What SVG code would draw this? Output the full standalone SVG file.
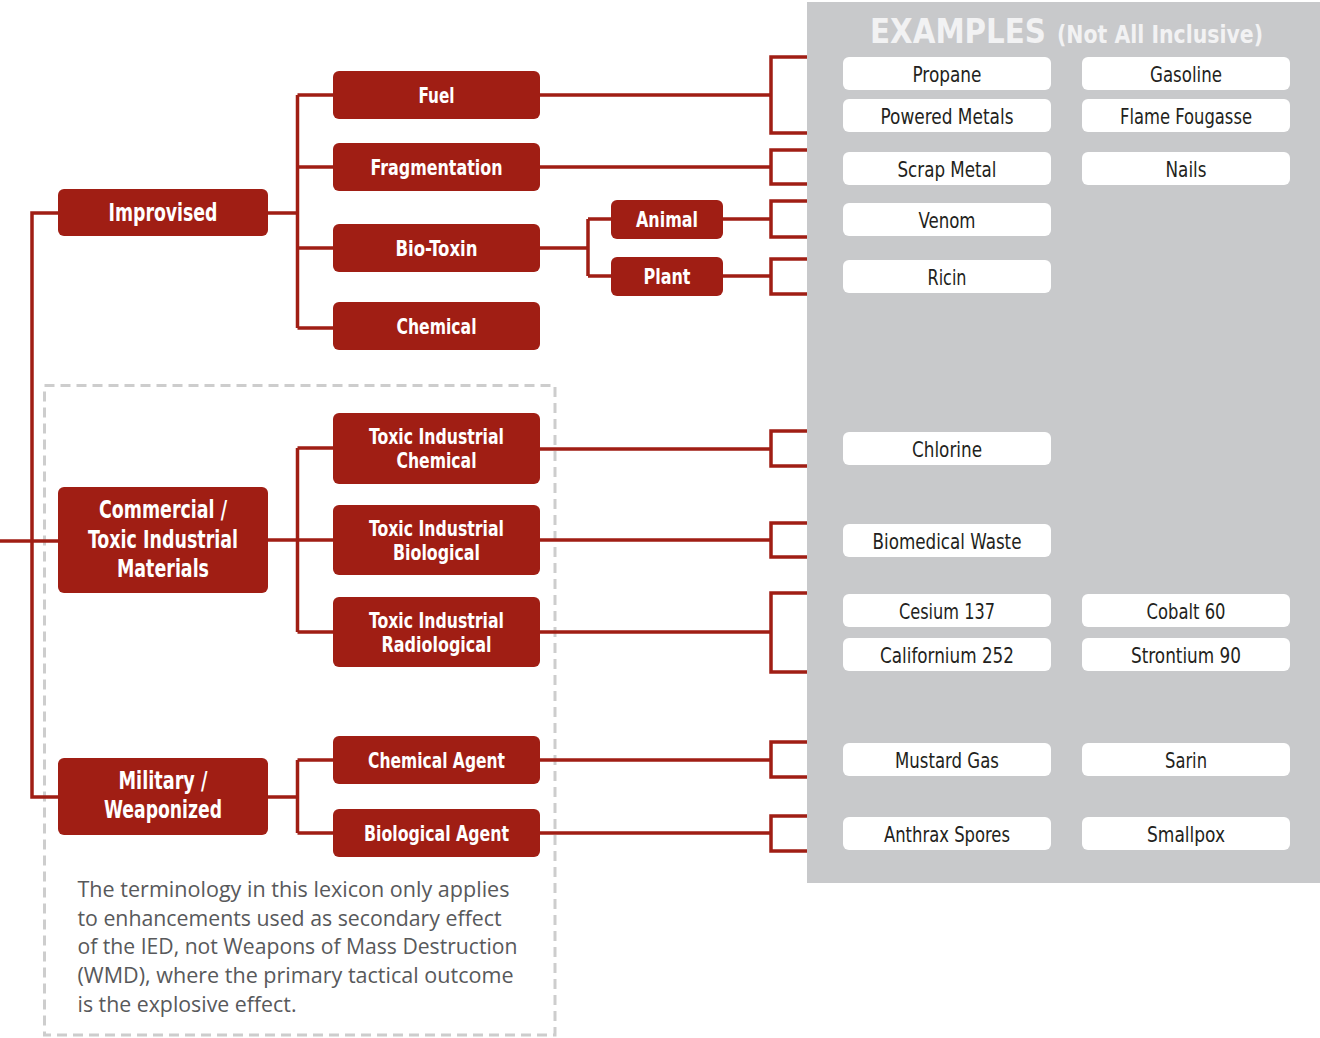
<svg xmlns="http://www.w3.org/2000/svg" width="1320" height="1038" viewBox="0 0 1320 1038">
  <style>
    .node rect { fill: #a01e14; }
    .lbl { font-family: "Liberation Sans Narrow", "DejaVu Sans Condensed", "Roboto", sans-serif; font-weight: 700; fill: #ffffff; text-anchor: middle; }
    .s22 { font-size: 22px; }
    .s24 { font-size: 24px; }
    .ex rect { fill: #ffffff; }
    .ex text { font-family: "Liberation Sans Narrow", "DejaVu Sans Condensed", "Roboto", sans-serif; font-size: 22px; fill: #231f20; text-anchor: middle; }
    .wire { fill: none; stroke: #a01e14; stroke-width: 3.5; }
    .note { font-family: "Open Sans", "Noto Sans", sans-serif; font-size: 22px; fill: #58595b; }
    .title { font-family: "Liberation Sans Narrow", "DejaVu Sans Condensed", sans-serif; font-weight: 700; fill: #f2f2f3; }
  </style>

  <!-- examples panel -->
  <rect x="807" y="2" width="513" height="881" fill="#c8c9cb"/>
  <text class="title" x="870" y="43" font-size="34" textLength="176" lengthAdjust="spacingAndGlyphs">EXAMPLES</text>
  <text class="title" x="1057" y="43" font-size="25" textLength="206" lengthAdjust="spacingAndGlyphs">(Not All Inclusive)</text>

  <!-- dashed scope frame -->
  <rect x="44.5" y="385.5" width="510.5" height="649.5" fill="none" stroke="#cdcdcd" stroke-width="3" stroke-dasharray="10 6"/>

  <!-- connectors -->
  <g id="connectors" class="wire">
    <path d="M58 213 H32 V797 H58"/>
    <path d="M0 541 H58"/>
    <path d="M268 213 H297.5 M297.5 95 V328 M297.5 95 H333 M297.5 167 H333 M297.5 248 H333 M297.5 328 H333"/>
    <path d="M540 95 H771 M807 57 H771 V133 H807"/>
    <path d="M540 167 H771 M807 150 H771 V184 H807"/>
    <path d="M540 248 H588 M588 219 V276 M588 219 H611 M588 276 H611"/>
    <path d="M723 219 H771 M807 201 H771 V237 H807"/>
    <path d="M723 276 H771 M807 259 H771 V294 H807"/>
    <path d="M268 540 H297.5 M297.5 448 V632 M297.5 448 H333 M297.5 540 H333 M297.5 632 H333"/>
    <path d="M540 449 H771 M807 431 H771 V466 H807"/>
    <path d="M540 540 H771 M807 523 H771 V557 H807"/>
    <path d="M540 632 H771 M807 593 H771 V672 H807"/>
    <path d="M268 797 H297.5 M297.5 760 V833 M297.5 760 H333 M297.5 833 H333"/>
    <path d="M540 760 H771 M807 742 H771 V777 H807"/>
    <path d="M540 833 H771 M807 816 H771 V851 H807"/>
  </g>

  <!-- main categories -->
  <g id="improvised" class="node">
    <rect x="58" y="189" width="210" height="47" rx="6"/>
    <text class="lbl" x="163" y="221" font-size="25" textLength="109" lengthAdjust="spacingAndGlyphs">Improvised</text>
  </g>
  <g id="commercial" class="node">
    <rect x="58" y="487" width="210" height="106" rx="6"/>
    <text class="lbl s24" x="163" y="518" textLength="128" lengthAdjust="spacingAndGlyphs">Commercial /</text>
    <text class="lbl s24" x="163" y="548" textLength="150" lengthAdjust="spacingAndGlyphs">Toxic Industrial</text>
    <text class="lbl s24" x="163" y="577" textLength="92" lengthAdjust="spacingAndGlyphs">Materials</text>
  </g>
  <g id="military" class="node">
    <rect x="58" y="758" width="210" height="77" rx="6"/>
    <text class="lbl s24" x="163" y="789" textLength="89" lengthAdjust="spacingAndGlyphs">Military /</text>
    <text class="lbl s24" x="163" y="818" textLength="118" lengthAdjust="spacingAndGlyphs">Weaponized</text>
  </g>

  <!-- sub-categories -->
  <g id="fuel" class="node">
    <rect x="333" y="71" width="207" height="48" rx="6"/>
    <text class="lbl s22" x="436.5" y="103" textLength="36" lengthAdjust="spacingAndGlyphs">Fuel</text>
  </g>
  <g id="fragmentation" class="node">
    <rect x="333" y="143" width="207" height="48" rx="6"/>
    <text class="lbl s22" x="436.5" y="175" textLength="132" lengthAdjust="spacingAndGlyphs">Fragmentation</text>
  </g>
  <g id="bio-toxin" class="node">
    <rect x="333" y="224" width="207" height="48" rx="6"/>
    <text class="lbl s22" x="436.5" y="256" textLength="82" lengthAdjust="spacingAndGlyphs">Bio-Toxin</text>
  </g>
  <g id="chemical" class="node">
    <rect x="333" y="302" width="207" height="48" rx="6"/>
    <text class="lbl s22" x="436.5" y="334" textLength="80" lengthAdjust="spacingAndGlyphs">Chemical</text>
  </g>
  <g id="animal" class="node">
    <rect x="611" y="200" width="112" height="39" rx="6"/>
    <text class="lbl s22" x="667" y="227" textLength="62" lengthAdjust="spacingAndGlyphs">Animal</text>
  </g>
  <g id="plant" class="node">
    <rect x="611" y="257" width="112" height="39" rx="6"/>
    <text class="lbl s22" x="667" y="284" textLength="47" lengthAdjust="spacingAndGlyphs">Plant</text>
  </g>
  <g id="tic" class="node">
    <rect x="333" y="413" width="207" height="71" rx="6"/>
    <text class="lbl s22" x="436.5" y="444" textLength="135" lengthAdjust="spacingAndGlyphs">Toxic Industrial</text>
    <text class="lbl s22" x="436.5" y="468" textLength="80" lengthAdjust="spacingAndGlyphs">Chemical</text>
  </g>
  <g id="tib" class="node">
    <rect x="333" y="505" width="207" height="70" rx="6"/>
    <text class="lbl s22" x="436.5" y="536" textLength="135" lengthAdjust="spacingAndGlyphs">Toxic Industrial</text>
    <text class="lbl s22" x="436.5" y="560" textLength="87" lengthAdjust="spacingAndGlyphs">Biological</text>
  </g>
  <g id="tir" class="node">
    <rect x="333" y="597" width="207" height="70" rx="6"/>
    <text class="lbl s22" x="436.5" y="628" textLength="135" lengthAdjust="spacingAndGlyphs">Toxic Industrial</text>
    <text class="lbl s22" x="436.5" y="652" textLength="110" lengthAdjust="spacingAndGlyphs">Radiological</text>
  </g>
  <g id="chemical-agent" class="node">
    <rect x="333" y="736" width="207" height="48" rx="6"/>
    <text class="lbl s22" x="436.5" y="768" textLength="137" lengthAdjust="spacingAndGlyphs">Chemical Agent</text>
  </g>
  <g id="biological-agent" class="node">
    <rect x="333" y="809" width="207" height="48" rx="6"/>
    <text class="lbl s22" x="436.5" y="841" textLength="145" lengthAdjust="spacingAndGlyphs">Biological Agent</text>
  </g>

  <!-- example chips -->
  <g id="ex-propane" class="ex"><rect x="843" y="57" width="208" height="33" rx="6"/><text x="947" y="82" textLength="69" lengthAdjust="spacingAndGlyphs">Propane</text></g>
  <g id="ex-gasoline" class="ex"><rect x="1082" y="57" width="208" height="33" rx="6"/><text x="1186" y="82" textLength="72" lengthAdjust="spacingAndGlyphs">Gasoline</text></g>
  <g id="ex-powered-metals" class="ex"><rect x="843" y="99" width="208" height="33" rx="6"/><text x="947" y="124" textLength="133" lengthAdjust="spacingAndGlyphs">Powered Metals</text></g>
  <g id="ex-flame-fougasse" class="ex"><rect x="1082" y="99" width="208" height="33" rx="6"/><text x="1186" y="124" textLength="132" lengthAdjust="spacingAndGlyphs">Flame Fougasse</text></g>
  <g id="ex-scrap-metal" class="ex"><rect x="843" y="152" width="208" height="33" rx="6"/><text x="947" y="177" textLength="99" lengthAdjust="spacingAndGlyphs">Scrap Metal</text></g>
  <g id="ex-nails" class="ex"><rect x="1082" y="152" width="208" height="33" rx="6"/><text x="1186" y="177" textLength="41" lengthAdjust="spacingAndGlyphs">Nails</text></g>
  <g id="ex-venom" class="ex"><rect x="843" y="203" width="208" height="33" rx="6"/><text x="947" y="228" textLength="57" lengthAdjust="spacingAndGlyphs">Venom</text></g>
  <g id="ex-ricin" class="ex"><rect x="843" y="260" width="208" height="33" rx="6"/><text x="947" y="285" textLength="39" lengthAdjust="spacingAndGlyphs">Ricin</text></g>
  <g id="ex-chlorine" class="ex"><rect x="843" y="432" width="208" height="33" rx="6"/><text x="947" y="457" textLength="70" lengthAdjust="spacingAndGlyphs">Chlorine</text></g>
  <g id="ex-biomedical-waste" class="ex"><rect x="843" y="524" width="208" height="33" rx="6"/><text x="947" y="549" textLength="149" lengthAdjust="spacingAndGlyphs">Biomedical Waste</text></g>
  <g id="ex-cesium" class="ex"><rect x="843" y="594" width="208" height="33" rx="6"/><text x="947" y="619" textLength="96" lengthAdjust="spacingAndGlyphs">Cesium 137</text></g>
  <g id="ex-cobalt" class="ex"><rect x="1082" y="594" width="208" height="33" rx="6"/><text x="1186" y="619" textLength="79" lengthAdjust="spacingAndGlyphs">Cobalt 60</text></g>
  <g id="ex-californium" class="ex"><rect x="843" y="638" width="208" height="33" rx="6"/><text x="947" y="663" textLength="134" lengthAdjust="spacingAndGlyphs">Californium 252</text></g>
  <g id="ex-strontium" class="ex"><rect x="1082" y="638" width="208" height="33" rx="6"/><text x="1186" y="663" textLength="110" lengthAdjust="spacingAndGlyphs">Strontium 90</text></g>
  <g id="ex-mustard-gas" class="ex"><rect x="843" y="743" width="208" height="33" rx="6"/><text x="947" y="768" textLength="104" lengthAdjust="spacingAndGlyphs">Mustard Gas</text></g>
  <g id="ex-sarin" class="ex"><rect x="1082" y="743" width="208" height="33" rx="6"/><text x="1186" y="768" textLength="42" lengthAdjust="spacingAndGlyphs">Sarin</text></g>
  <g id="ex-anthrax" class="ex"><rect x="843" y="817" width="208" height="33" rx="6"/><text x="947" y="842" textLength="126" lengthAdjust="spacingAndGlyphs">Anthrax Spores</text></g>
  <g id="ex-smallpox" class="ex"><rect x="1082" y="817" width="208" height="33" rx="6"/><text x="1186" y="842" textLength="78" lengthAdjust="spacingAndGlyphs">Smallpox</text></g>

  <!-- scope note -->
  <g id="note">
    <text class="note" x="77.5" y="897" textLength="432" lengthAdjust="spacingAndGlyphs">The terminology in this lexicon only applies</text>
    <text class="note" x="77.5" y="926" textLength="424" lengthAdjust="spacingAndGlyphs">to enhancements used as secondary effect</text>
    <text class="note" x="77.5" y="954" textLength="440" lengthAdjust="spacingAndGlyphs">of the IED, not Weapons of Mass Destruction</text>
    <text class="note" x="77.5" y="983" textLength="436" lengthAdjust="spacingAndGlyphs">(WMD), where the primary tactical outcome</text>
    <text class="note" x="77.5" y="1012" textLength="219" lengthAdjust="spacingAndGlyphs">is the explosive effect.</text>
  </g>
</svg>
